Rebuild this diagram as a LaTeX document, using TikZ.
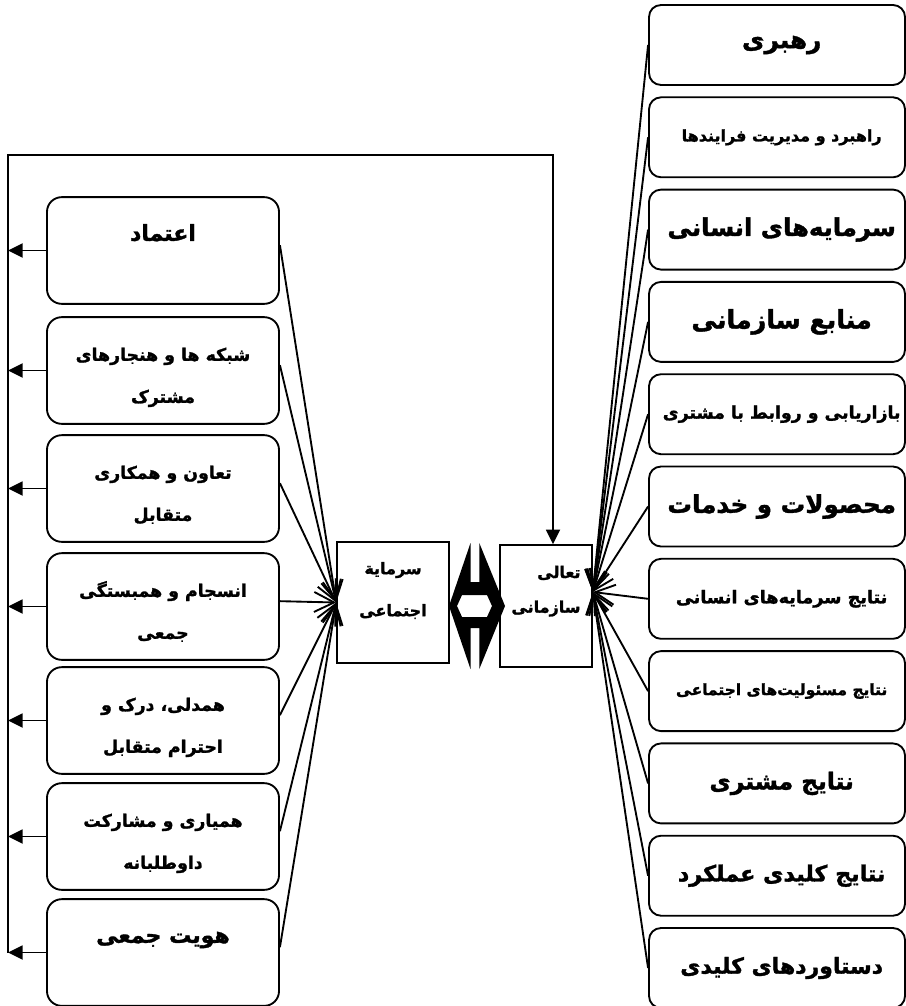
\documentclass[tikz,border=0pt]{standalone}
\usepackage{fontspec}
\usepackage{tikz}
\usetikzlibrary{arrows.meta,positioning,calc}
\newfontfamily\farsi[Script=Arabic, BoldFeatures={FakeBold=1.5}]{DejaVu Sans}
\TeXXeTstate=1
\newcommand{\rtlline}[1]{\beginR #1\endR}

\begin{document}
\begin{tikzpicture}[
  x=0.75pt, y=-0.75pt,
  factor/.style={draw, line width=1.4pt, rounded corners=11pt, align=center, minimum width=174pt, minimum height=80pt, inner sep=0pt},
  criterion/.style={draw, line width=1.4pt, rounded corners=9pt, align=center, minimum width=192pt, minimum height=60pt, inner sep=0pt},
  core/.style={draw, line width=1.2pt, inner sep=0pt},
  flow/.style={line width=1.4pt, -{Straight Barb[length=15pt,width=15pt]}},
  back/.style={line width=1.4pt, -{Triangle[length=11pt,width=10.5pt]}}
]
\useasboundingbox (0,0) rectangle (906,1006);

\node[core, align=center, minimum width=84pt, minimum height=90.75pt, font=\farsi\bfseries\fontsize{12}{31.5}\selectfont] (sarmaye) at (393,602.5) {\rule{0pt}{12pt}\rtlline{سرمایة}\\\rtlline{اجتماعی}\rule[-23pt]{0pt}{23pt}};
\node[core, align=right, minimum width=69pt, minimum height=91.5pt, font=\farsi\bfseries\fontsize{12}{26}\selectfont] (taali) at (546,606) {\rule{0pt}{12pt}\rtlline{تعالی}\\\rtlline{سازمانی}\rule[-28pt]{0pt}{28pt}};
\fill[even odd rule] (470.5,543) -- (470.5,582) -- (479.3,582) -- (479.3,543) -- (505,606) -- (479.3,669) -- (479.3,628) -- (470.5,628) -- (470.5,669) -- (449,606) -- cycle
  (457,606) -- (462,595) -- (487,595) -- (492,606) -- (487,617) -- (462,617) -- cycle;

\coordinate (fbtop) at (8,155);
\coordinate (fbturn) at (553,155);
\coordinate (tip) at ([yshift=10.5pt]taali.east);

\foreach \y/\la/\lb/\sz/\id in {250.5/اعتماد//16.5/a,370.5/شبکه ها و هنجارهای/مشترک/13/b,488.5/تعاون و همکاری/متقابل/13/c,606.5/انسجام و همبستگی/جمعی/13/d,720.5/همدلی، درک و/احترام متقابل/13/e,836.5/همیاری و مشارکت/داوطلبانه/13/f,952.5/هویت جمعی//16.5/g} {
  \node[factor, font=\farsi\bfseries\fontsize{\sz}{31.5}\selectfont] (f\id) at (163,\y) {\rule{0pt}{22pt}\rtlline{\la}\\\rtlline{\lb}\rule[-5pt]{0pt}{5pt}};
  \draw[flow] ([yshift=4pt]f\id.east) -- (sarmaye.west);
  \draw[back] (f\id.west) -- (f\id.west -| fbtop);
}
\draw[back] (fbtop |- fg.west) -- (fbtop) -- (fbturn) -- (fbturn |- taali.north);

\foreach \i/\txt/\sz in {0/رهبری/18.5,1/راهبرد و مدیریت فرایندها/12,2/سرمایه‌های انسانی/18.2,3/منابع سازمانی/19,4/بازاریابی و روابط با مشتری/13,5/محصولات و خدمات/18.4,6/نتایج سرمایه‌های انسانی/13.2,7/نتایج مسئولیت‌های اجتماعی/11.6,8/نتایج مشتری/17.5,9/نتایج کلیدی عملکرد/16.7,10/دستاوردهای کلیدی/16.5} {
  \node[criterion, font=\farsi\bfseries\fontsize{\sz}{\sz}\selectfont] (c\i) at (777,{45+92.3*\i}) {\makebox[184pt]{\hspace{7pt}\rtlline{\txt}}};
  \draw[flow] (c\i.west) -- (tip);
}
\end{tikzpicture}
\end{document}
